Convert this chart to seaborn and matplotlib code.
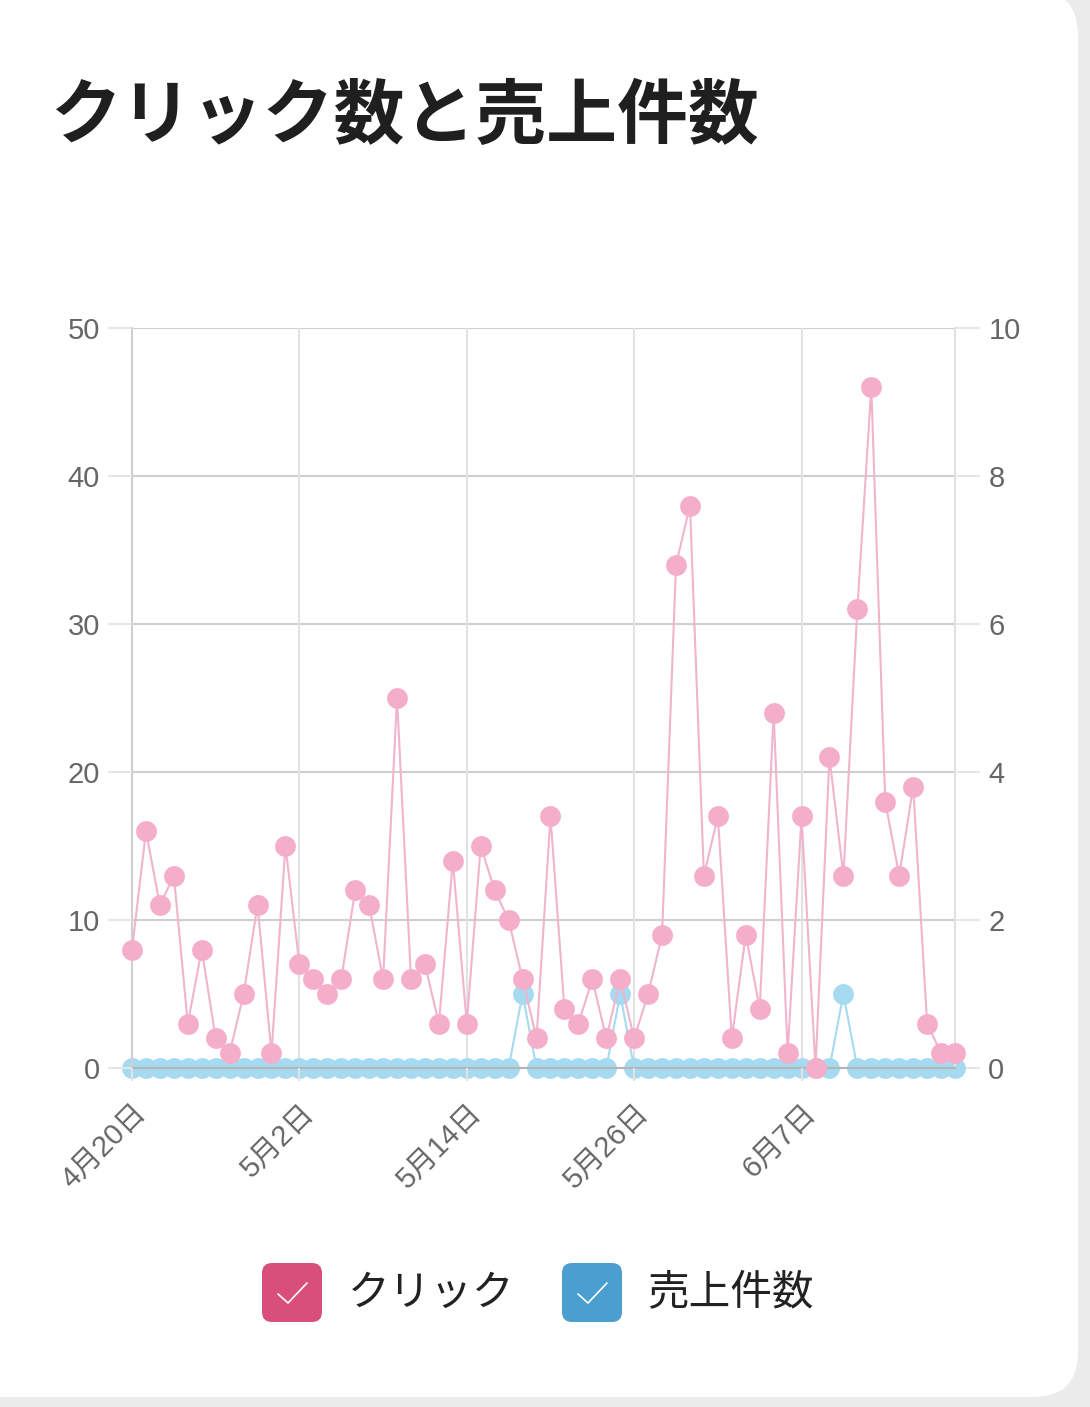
import pandas as pd
import numpy as np
import matplotlib
matplotlib.use("Agg")
import matplotlib.pyplot as plt
from matplotlib.patches import FancyBboxPatch
from matplotlib.lines import Line2D
import seaborn as sns

# Data (daily, 4/20 - 6/18)
dates = pd.date_range("2024-04-20", periods=60, freq="D")
clicks = [8, 16, 11, 13, 3, 8, 2, 1, 5, 11,
          1, 15, 7, 6, 5, 6, 12, 11, 6, 25,
          6, 7, 3, 14, 3, 15, 12, 10, 6, 2,
          17, 4, 3, 6, 2, 6, 2, 5, 9, 34,
          38, 13, 17, 2, 9, 4, 24, 1, 17, 0,
          21, 13, 31, 46, 18, 13, 19, 3, 1, 1]
sales = [0] * 60
sales[28] = 1
sales[35] = 1
sales[51] = 1

title = "クリック数と売上件数"
legend_labels = ["クリック", "売上件数"]
left_ticks = [0, 10, 20, 30, 40, 50]
right_ticks = [0, 2, 4, 6, 8, 10]

df = pd.DataFrame({"date": dates, "clicks": clicks, "sales": sales})

sns.set_theme(style="white")
plt.rcParams["font.family"] = ["Noto Sans CJK JP", "DejaVu Sans"]
tick_family = ["Liberation Sans", "Noto Sans CJK JP"]

W, H = 1090, 1407
fig = plt.figure(figsize=(W / 100, H / 100), dpi=100, facecolor="#ebebeb")

# white card with rounded corners
card = FancyBboxPatch((-0.6, (H - 1397) / 100), 1078 / 100 + 0.6, H / 100,
                      boxstyle="round,pad=0,rounding_size=0.45",
                      transform=fig.dpi_scale_trans, facecolor="white",
                      edgecolor="none", zorder=-5)
fig.add_artist(card)

fig.text(50 / W, 1 - 117 / H, title, fontsize=51, fontweight="bold",
         color="#1f1f1f", ha="left", va="center")

ax = fig.add_axes([132 / W, 1 - 1068 / H, (955 - 132) / W, (1068 - 328) / H])
ax2 = ax.twinx()
ax2.set_zorder(ax.get_zorder() - 1)
ax.patch.set_visible(False)

pink_line = "#f0b4cc"
pink_mark = "#f4aeca"
blue = "#a6daf0"

sns.lineplot(data=df, x="date", y="sales", ax=ax2, color=blue, linewidth=1.5,
             marker="o", markersize=15, markeredgewidth=0,
             markerfacecolor=blue, clip_on=False)
sns.lineplot(data=df, x="date", y="clicks", ax=ax, color=pink_line, linewidth=1.5,
             marker="o", markersize=15, markeredgewidth=0,
             markerfacecolor=pink_mark, clip_on=False)

ax.set_xlim(dates[0], dates[-1])
ax.set_ylim(0, 50)
ax2.set_ylim(0, 10)
ax.set_xlabel("")
ax.set_ylabel("")
ax2.set_ylabel("")

ax.set_yticks(left_ticks)
ax2.set_yticks(right_ticks)
xt = dates[::12]
ax.set_xticks(xt)
ax.set_xticklabels([f"{d.month}月{d.day}日" for d in xt], rotation=45,
                   ha="right", rotation_mode="anchor")

ax.grid(False)
ax2.grid(False)
for y in left_ticks:
    ax2.axhline(y / 5, color="#cfcfcf", linewidth=1.5, zorder=0)
for d in xt:
    ax2.axvline(d, color="#e2e2e2", linewidth=1.5, zorder=0)

for a in (ax, ax2):
    for s in a.spines.values():
        s.set_visible(False)
ax2.spines["left"].set_visible(True)
ax2.spines["left"].set_color("#cfcfcf")
ax2.spines["left"].set_linewidth(1.5)
ax2.spines["right"].set_visible(True)
ax2.spines["right"].set_color("#e2e2e2")
ax2.spines["right"].set_linewidth(1.5)
ax2.spines["bottom"].set_visible(True)
ax2.spines["bottom"].set_color("#b5b5b5")
ax2.spines["bottom"].set_linewidth(1.5)

ax.tick_params(axis="y", left=True, length=17, width=1.5, color="#e6e6e6",
               labelsize=21, labelcolor="#666666", pad=6)
ax2.tick_params(axis="y", right=True, length=18, width=1.5, color="#e6e6e6",
                labelsize=21, labelcolor="#666666", pad=6)
ax.tick_params(axis="x", bottom=True, length=9, width=1.5, color="#e2e2e2",
               labelsize=21, labelcolor="#666666", pad=13)
for lbl in ax.get_xticklabels() + ax.get_yticklabels() + ax2.get_yticklabels():
    lbl.set_family(tick_family)

# legend (checkbox style)
items = [(262, "#d94f7b", legend_labels[0], 348),
         (562, "#4a9fd0", legend_labels[1], 647)]
for bx, col, lab, tx in items:
    box = FancyBboxPatch((bx / 100, (H - 1322) / 100), 0.6, 0.59,
                         boxstyle="round,pad=0,rounding_size=0.1",
                         transform=fig.dpi_scale_trans, facecolor=col,
                         edgecolor="none")
    fig.add_artist(box)
    cx = [bx + 16, bx + 26, bx + 45]
    cy = [1294, 1303, 1283]
    fig.add_artist(Line2D([x / W for x in cx], [1 - y / H for y in cy],
                          transform=fig.transFigure, color="white",
                          linewidth=1.2))
    fig.text(tx / W, 1 - 1293 / H, lab, fontsize=30, color="#222222",
             ha="left", va="center")

fig.savefig("out.png", dpi=100, facecolor=fig.get_facecolor())
